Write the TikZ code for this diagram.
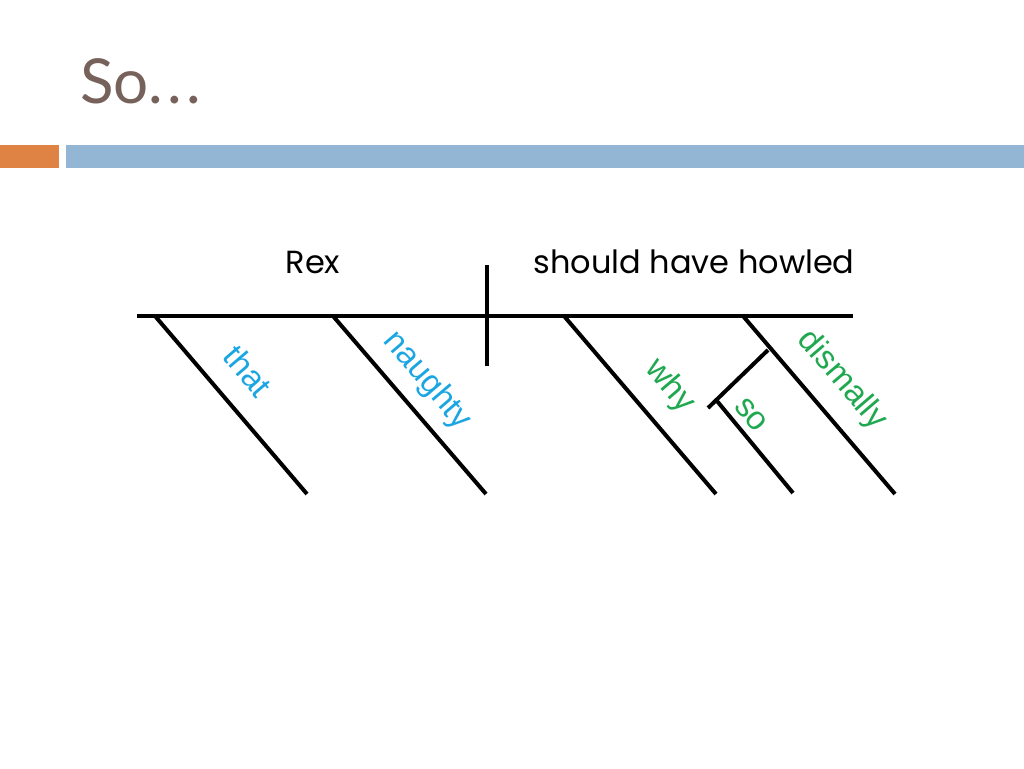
\documentclass[tikz,border=0pt]{standalone}
\usepackage{fontspec}
\setmainfont{Poppins}
\newfontfamily\labelfont{Liberation Sans}
\newfontfamily\titlefont{Lato}
\definecolor{titlebrown}{HTML}{76625B}
\definecolor{barorange}{HTML}{DF8344}
\definecolor{barblue}{HTML}{93B6D4}
\definecolor{modblue}{HTML}{1BA6E1}
\definecolor{modgreen}{HTML}{1FA84F}
\tikzset{
  diag/.style={line width=4pt},
  word/.style={font=\fontsize{32}{36}\selectfont},
  adjb/.style={font=\labelfont\fontsize{33}{35}\selectfont, text=modblue, rotate=-49.5},
  advg/.style={font=\labelfont\fontsize{33}{35}\selectfont, text=modgreen, rotate=-49.5}
}
\begin{document}
\begin{tikzpicture}[x=1pt,y=-1pt]
\useasboundingbox (0,0) rectangle (1024,768);
% title and bars
\node (title) at (80,103) [anchor=base west, text=titlebrown, font=\titlefont\fontsize{62}{66}\selectfont, inner sep=0pt] {So.\kern4pt.\kern4pt.};
\fill[barorange] (0,145) rectangle (59,168);
\fill[barblue] (66,145) rectangle (1024,168);

% base line and divider
\coordinate (b1) at (137,316);
\coordinate (b2) at (853,316);
\draw[diag] (b1) -- (b2);
\coordinate (d1) at (487,265);
\coordinate (d2) at (487,366);
\draw[diag] (d1) -- (d2);

\node (rex) at (313,273) [word, anchor=base] {Rex};
\node (verb) at (694,273) [word, anchor=base] {should have howled};

% subject modifiers
\coordinate (t1) at (155,316);
\coordinate (t2) at (307,494);
\draw[diag] (t1) -- (t2);
\coordinate (n1) at (333,316);
\coordinate (n2) at (486,494);
\draw[diag] (n1) -- (n2);
\node (that) at (248,371) [adjb] {that};
\node (naughty) at (427,381) [adjb] {naughty};

% verb modifiers
\coordinate (w1) at (564,316);
\coordinate (w2) at (716,494);
\draw[diag] (w1) -- (w2);
\coordinate (m1) at (743,316);
\coordinate (m2) at (895,494);
\draw[diag] (m1) -- (m2);
\coordinate (s0) at (768,350);
\coordinate (s1) at (708,408);
\draw[diag] (s0) -- (s1);
\coordinate (s2) at (717,401);
\coordinate (s3) at (793,493);
\draw[diag] (s2) -- (s3);
\node (why) at (670,386) [advg] {why};
\node (so) at (751,415) [advg] {so};
\node (dismally) at (842,380) [advg] {dismally};
\end{tikzpicture}
\end{document}
